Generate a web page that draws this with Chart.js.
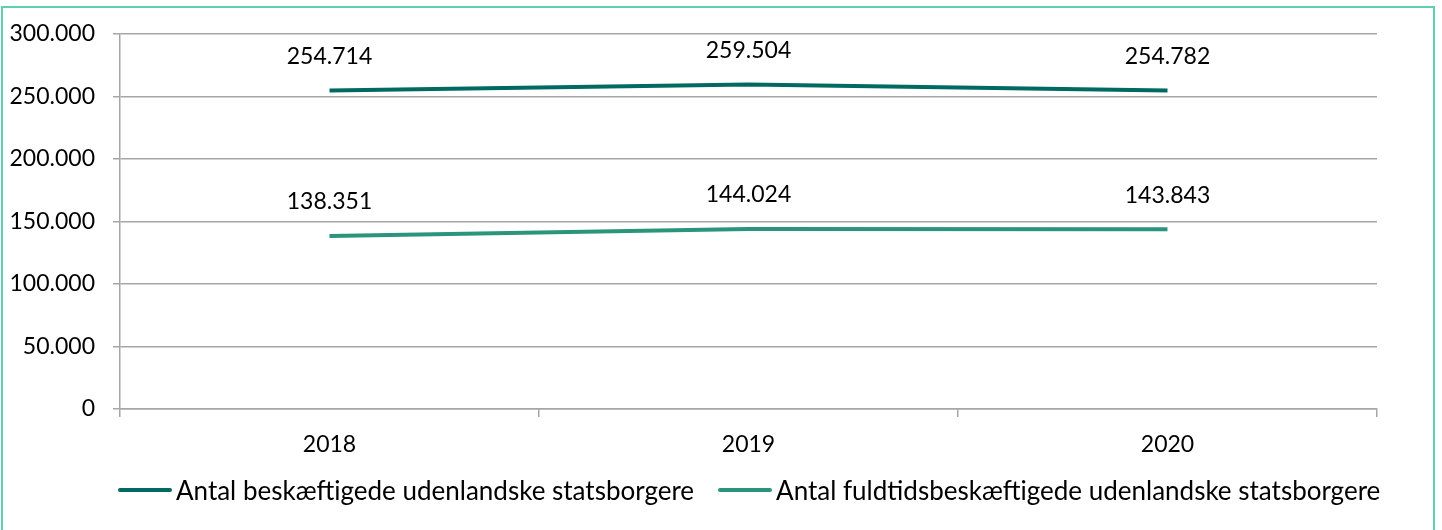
<!DOCTYPE html>
<html>
<head>
<meta charset="utf-8">
<script src="https://cdn.jsdelivr.net/npm/chart.js@4"></script>
<style>
  html, body { margin: 0; padding: 0; background: #fff; }
  #wrap { position: relative; width: 1442px; height: 530px; overflow: hidden; }
  #frame { position: absolute; left: 1px; top: 6px; width: 1430px; height: 600px; border: 2px solid #5fcfb1; }
  canvas { position: absolute; left: 0; top: 0; }
  #legend { position: absolute; left: 118px; top: 474px; display: flex; gap: 24px;
            font-family: Lato, "Open Sans", sans-serif; font-size: 26px; color: #000; line-height: 32px; }
  #legend .item { display: flex; align-items: center; }
  #legend .swatch { display: inline-block; width: 54px; height: 4px; margin-right: 4px; border-radius: 2px; }
</style>
</head>
<body>
<div id="wrap">
  <div id="frame"></div>
  <canvas id="lineChart" width="1442" height="530"></canvas>
  <div id="legend"></div>
</div>
<script>
// Data
const years = ['2018', '2019', '2020'];
const employed = [254714, 259504, 254782];
const fullTime = [138351, 144024, 143843];
const seriesNames = [
    'Antal beskæftigede udenlandske statsborgere',
    'Antal fuldtidsbeskæftigede udenlandske statsborgere'
];

const fmt = v => v.toLocaleString('da-DK');
const FONT = 'Lato, "Open Sans", sans-serif';

// Draw value labels above each point
const valueLabels = {
    id: 'valueLabels',
    afterDatasetsDraw(chart) {
        const ctx = chart.ctx;
        ctx.save();
        ctx.font = '23px ' + FONT;
        ctx.fillStyle = '#000';
        ctx.textAlign = 'center';
        ctx.textBaseline = 'middle';
        chart.data.datasets.forEach((ds, i) => {
            chart.getDatasetMeta(i).data.forEach((pt, j) => {
                ctx.fillText(fmt(ds.data[j]), pt.x, pt.y - 34);
            });
        });
        ctx.restore();
    }
};

const chart = new Chart(document.getElementById('lineChart').getContext('2d'), {
    type: 'line',
    data: {
        labels: years,
        datasets: [
            {
                label: seriesNames[0],
                data: employed,
                borderColor: '#006a62',
                backgroundColor: '#006a62',
                borderWidth: 4,
                pointRadius: 0,
                tension: 0
            },
            {
                label: seriesNames[1],
                data: fullTime,
                borderColor: '#2b957c',
                backgroundColor: '#2b957c',
                borderWidth: 4,
                pointRadius: 0,
                tension: 0
            }
        ]
    },
    options: {
        responsive: false,
        animation: false,
        layout: { padding: { top: 34, right: 65, bottom: 61, left: 0 } },
        plugins: {
            legend: { display: false },
            tooltip: { enabled: false }
        },
        scales: {
            x: {
                offset: true,
                grid: {
                    offset: true,
                    drawOnChartArea: false,
                    drawTicks: true,
                    tickLength: 8,
                    color: '#a6a6a6',
                    lineWidth: 1.5
                },
                border: { color: '#a6a6a6', width: 1.5 },
                ticks: { font: { family: FONT, size: 23 }, color: '#000', padding: 14 },
                afterFit(scale) { scale.height = 60; }
            },
            y: {
                min: 0,
                max: 300000,
                ticks: {
                    stepSize: 50000,
                    font: { family: FONT, size: 23 },
                    color: '#000',
                    padding: 18,
                    callback: v => fmt(v)
                },
                grid: {
                    color: '#a6a6a6',
                    lineWidth: 1.5,
                    tickLength: 7
                },
                border: { color: '#a6a6a6', width: 1.5 },
                afterFit(scale) { scale.width = 120; }
            }
        }
    },
    plugins: [valueLabels]
});

// HTML legend built from the chart's datasets
const legendEl = document.getElementById('legend');
chart.data.datasets.forEach(ds => {
    const item = document.createElement('span');
    item.className = 'item';
    const sw = document.createElement('span');
    sw.className = 'swatch';
    sw.style.background = ds.borderColor;
    item.appendChild(sw);
    item.appendChild(document.createTextNode(ds.label));
    legendEl.appendChild(item);
});
</script>
</body>
</html>
